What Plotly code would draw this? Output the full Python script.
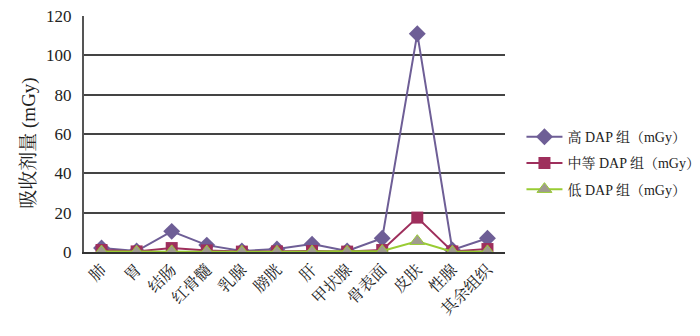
import plotly.graph_objects as go

categories = ["肺", "胃", "结肠", "红骨髓", "乳腺", "膀胱", "肝", "甲状腺", "骨表面", "皮肤", "性腺", "其余组织"]
high = [2.0, 0.5, 10.5, 3.5, 0.5, 1.5, 4.0, 0.5, 7.0, 111.0, 1.0, 7.0]
medium = [1.0, 0.3, 2.0, 0.8, 0.2, 0.3, 0.5, 0.2, 1.0, 17.5, 0.3, 1.5]
low = [0.2, 0.1, 0.3, 0.2, 0.1, 0.1, 0.2, 0.1, 0.5, 5.5, 0.1, 0.3]
yticks = [0, 20, 40, 60, 80, 100, 120]
y_title = "吸收剂量 (mGy)"

font_family = "Liberation Serif, Noto Serif CJK SC, Noto Sans CJK SC, serif"

fig = go.Figure()
fig.add_trace(go.Scatter(
    x=categories, y=high, name="高 DAP 组（mGy）", mode="lines+markers",
    legendgroup="a",
    line=dict(color="#6E5E96", width=2),
    marker=dict(symbol="diamond", size=13, color="#6E5E96"),
))
fig.add_trace(go.Scatter(
    x=categories, y=medium, name="中等 DAP 组（mGy）", mode="lines+markers",
    legendgroup="b",
    line=dict(color="#9E2F5C", width=2),
    marker=dict(symbol="square", size=12, color="#9E2F5C"),
))
fig.add_trace(go.Scatter(
    x=categories, y=low, name="低 DAP 组（mGy）", mode="lines+markers",
    legendgroup="c",
    line=dict(color="#99CC33", width=2),
    marker=dict(symbol="triangle-up", size=13, color="#A09A90",
                line=dict(color="#99CC33", width=1)),
))

fig.update_layout(
    width=692, height=328,
    margin=dict(l=76, r=195, t=8, b=84, autoexpand=False),
    paper_bgcolor="white", plot_bgcolor="white",
    font=dict(family=font_family, color="#222222", size=14),
    showlegend=True,
    legend=dict(xref="container", yref="container", x=0.742, y=0.527,
                xanchor="left", yanchor="middle", traceorder="grouped",
                font=dict(size=14, family=font_family), tracegroupgap=5,
                itemwidth=36),
    xaxis=dict(
        type="category", showgrid=False, showline=True, linecolor="#333333",
        linewidth=2, tickangle=-45, ticks="", tickfont=dict(size=16),
        range=[-0.5, 11.5], automargin=False,
    ),
    yaxis=dict(
        range=[0, 120], tickvals=yticks, showgrid=True, gridcolor="#444444",
        gridwidth=2, showline=True, linecolor="#555555", linewidth=2,
        ticks="", tickfont=dict(size=17), zeroline=False,
        ticklabelstandoff=7, ticklabeloverflow="allow", automargin=False,
    ),
    annotations=[dict(
        text=y_title, textangle=-90, xref="paper", yref="paper",
        x=-0.13, y=0.46, xanchor="center", yanchor="middle",
        showarrow=False, font=dict(size=19, family=font_family),
    )],
)

fig.write_html("out.html")
